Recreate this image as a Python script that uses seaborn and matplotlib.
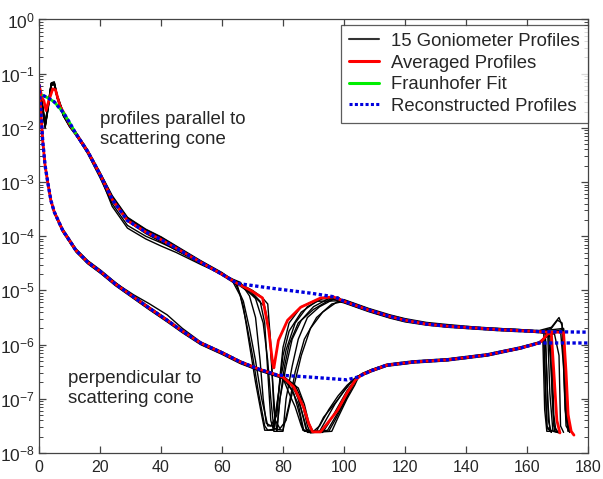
import numpy as np
import pandas as pd
import matplotlib
matplotlib.use("Agg")
import matplotlib.pyplot as plt
from matplotlib.lines import Line2D
from matplotlib.ticker import LogLocator, NullFormatter, FixedLocator
import seaborn as sns

# ---------------- data (log10 of intensity) ----------------
# parallel-to-cone goniometer profiles: shared head / tail grids
UP_HEAD_X = [0, 1, 2, 3, 4, 5, 6, 8, 10, 12, 16, 20, 24, 29, 35, 40, 45, 53, 60]
UP_HEAD = [
    [-1.20, -1.50, -1.95, -1.55, -1.18, -1.16, -1.40, -1.72, -1.93, -2.08, -2.42, -2.85, -3.30, -3.68, -3.90, -4.04, -4.20, -4.46, -4.68],
    [-1.22, -1.60, -2.00, -1.65, -1.22, -1.20, -1.45, -1.78, -1.97, -2.12, -2.47, -2.90, -3.35, -3.72, -3.93, -4.07, -4.23, -4.50, -4.72],
    [-1.18, -1.52, -1.90, -1.58, -1.17, -1.15, -1.42, -1.74, -1.94, -2.10, -2.44, -2.88, -3.45, -3.85, -4.05, -4.18, -4.30, -4.52, -4.70],
    [-1.25, -1.58, -1.98, -1.62, -1.20, -1.20, -1.45, -1.76, -1.96, -2.11, -2.43, -2.83, -3.27, -3.66, -3.88, -4.02, -4.19, -4.47, -4.70],
    [-1.20, -1.55, -1.92, -1.60, -1.21, -1.19, -1.44, -1.77, -1.95, -2.09, -2.45, -2.86, -3.32, -3.72, -3.95, -4.10, -4.26, -4.50, -4.71],
    [-1.23, -1.56, -1.97, -1.63, -1.19, -1.17, -1.41, -1.73, -1.92, -2.07, -2.41, -2.82, -3.25, -3.65, -3.87, -4.01, -4.18, -4.45, -4.67],
    [-1.21, -1.54, -1.96, -1.59, -1.20, -1.18, -1.44, -1.76, -1.96, -2.12, -2.48, -2.92, -3.40, -3.80, -4.00, -4.12, -4.25, -4.49, -4.69],
    [-1.19, -1.57, -1.99, -1.61, -1.18, -1.20, -1.46, -1.78, -1.98, -2.13, -2.46, -2.87, -3.31, -3.70, -3.91, -4.06, -4.21, -4.48, -4.71],
]
UP_DIP_X = [
    [63, 66, 68, 70, 72, 74, 75, 78, 79, 81, 83, 86, 90, 95],
    [65, 67, 69, 71, 73, 74, 77, 79, 81, 84, 88, 94],
    [66, 70, 72.5, 74, 75, 76, 77, 78, 79, 80.5, 82, 85, 90, 96],
    [66, 70, 73, 75, 76, 77, 78, 80, 81, 83, 85, 88, 92, 98],
    [66, 69, 71, 72.5, 73.5, 74.5, 76, 78, 79, 80, 82, 86, 92],
    [66, 70, 74, 75.5, 76.5, 77.5, 79, 81, 83, 86, 89, 93, 98],
    [66, 71, 73.5, 75, 76, 77, 80, 82, 84, 87, 91, 96],
    [64, 67, 69, 71, 73, 75, 77, 78.5, 80, 82, 86, 91],
]
UP_DIP = [
    [-4.78, -5.10, -5.60, -6.20, -6.90, -7.50, -7.58, -7.55, -7.00, -6.40, -5.90, -5.55, -5.30, -5.15],
    [-4.90, -5.30, -6.00, -6.70, -7.30, -7.58, -7.58, -6.70, -6.10, -5.60, -5.30, -5.12],
    [-4.90, -5.05, -5.20, -5.60, -6.50, -7.40, -7.60, -7.60, -7.00, -6.40, -6.00, -5.60, -5.35, -5.15],
    [-4.88, -5.00, -5.12, -5.25, -6.00, -7.20, -7.60, -7.60, -7.00, -6.40, -5.90, -5.50, -5.30, -5.12],
    [-4.85, -5.10, -5.50, -6.30, -7.00, -7.45, -7.50, -7.30, -6.60, -6.05, -5.60, -5.30, -5.15],
    [-4.92, -5.08, -5.30, -5.70, -6.60, -7.40, -7.55, -7.40, -6.90, -6.20, -5.70, -5.40, -5.20],
    [-4.88, -5.15, -5.60, -6.30, -7.00, -7.55, -7.58, -7.10, -6.50, -5.90, -5.50, -5.25],
    [-4.82, -5.20, -5.70, -6.30, -7.00, -7.50, -7.50, -6.90, -6.20, -5.75, -5.40, -5.20],
]
UP_TAIL_X = [100, 108, 115, 120, 127, 134, 142, 150, 157, 164]
UP_TAIL = [
    [-5.18, -5.34, -5.47, -5.54, -5.60, -5.65, -5.68, -5.71, -5.73, -5.76],
    [-5.22, -5.38, -5.50, -5.57, -5.63, -5.67, -5.70, -5.73, -5.75, -5.77],
    [-5.19, -5.35, -5.46, -5.53, -5.61, -5.64, -5.68, -5.70, -5.72, -5.75],
    [-5.21, -5.37, -5.49, -5.56, -5.62, -5.66, -5.70, -5.72, -5.75, -5.78],
    [-5.17, -5.33, -5.45, -5.52, -5.59, -5.63, -5.67, -5.70, -5.72, -5.74],
    [-5.23, -5.39, -5.51, -5.58, -5.64, -5.68, -5.71, -5.74, -5.76, -5.76],
    [-5.20, -5.36, -5.48, -5.55, -5.62, -5.66, -5.69, -5.72, -5.74, -5.77],
    [-5.19, -5.35, -5.47, -5.55, -5.61, -5.65, -5.69, -5.71, -5.73, -5.75],
]
UP_END_X = [
    [168, 170, 171.5, 172.5, 173, 174],
    [166, 166.5, 167, 168],
    [169, 172, 172.8, 173.5],
    [167, 168, 168.8, 170],
    [168, 170.5, 171.5, 172.5, 173.5],
    [165.5, 166, 166.6, 168],
    [169, 172, 173.2, 174],
    [166.8, 167.5, 168.5, 170],
]
UP_END = [
    [-5.70, -5.55, -5.60, -6.50, -7.40, -7.60],
    [-5.80, -6.50, -7.40, -7.62],
    [-5.72, -5.70, -6.80, -7.60],
    [-5.78, -6.50, -7.50, -7.60],
    [-5.68, -5.50, -5.65, -7.20, -7.60],
    [-5.78, -6.80, -7.55, -7.60],
    [-5.75, -5.72, -7.00, -7.62],
    [-5.80, -6.90, -7.60, -7.62],
]

# perpendicular-to-cone goniometer profiles
LO_HEAD_X = [0, 0.5, 1.2, 2, 3, 3.9, 5, 7.75, 10, 12.1, 16, 20.3, 25, 31, 36, 42, 47, 53, 60, 66, 72, 78]
LO_HEAD = [
    [-1.20, -1.62, -2.25, -2.70, -3.04, -3.33, -3.54, -3.88, -4.07, -4.25, -4.47, -4.65, -4.87, -5.10, -5.30, -5.53, -5.74, -5.96, -6.14, -6.31, -6.44, -6.55],
    [-1.22, -1.58, -2.20, -2.68, -3.06, -3.35, -3.56, -3.90, -4.10, -4.27, -4.50, -4.68, -4.90, -5.14, -5.34, -5.57, -5.76, -5.98, -6.16, -6.33, -6.46, -6.57],
    [-1.18, -1.60, -2.24, -2.72, -3.05, -3.34, -3.55, -3.87, -4.06, -4.24, -4.46, -4.64, -4.86, -5.08, -5.24, -5.45, -5.70, -5.95, -6.13, -6.30, -6.44, -6.56],
    [-1.21, -1.61, -2.23, -2.71, -3.07, -3.36, -3.57, -3.91, -4.09, -4.28, -4.49, -4.67, -4.89, -5.13, -5.33, -5.56, -5.77, -5.99, -6.17, -6.34, -6.47, -6.58],
    [-1.19, -1.59, -2.22, -2.69, -3.03, -3.32, -3.53, -3.86, -4.05, -4.23, -4.45, -4.63, -4.85, -5.11, -5.31, -5.54, -5.74, -5.96, -6.14, -6.31, -6.45, -6.55],
    [-1.23, -1.63, -2.26, -2.73, -3.08, -3.37, -3.58, -3.92, -4.11, -4.29, -4.51, -4.69, -4.91, -5.15, -5.35, -5.58, -5.78, -6.00, -6.18, -6.35, -6.48, -6.59],
    [-1.20, -1.60, -2.21, -2.70, -3.05, -3.34, -3.55, -3.89, -4.08, -4.26, -4.48, -4.66, -4.88, -5.12, -5.32, -5.55, -5.75, -5.97, -6.15, -6.32, -6.45, -6.56],
]
LO_DIP_X = [
    [80, 82, 84, 86, 87, 92, 94, 97, 100, 103],
    [80, 83, 85, 87, 88, 93, 95, 98, 101, 104],
    [80, 84, 86, 87.5, 89, 95, 97, 100, 102, 104.5],
    [81, 83.5, 85.5, 86.5, 91, 93.3, 97.9, 102, 104.5],
    [80, 84, 86, 88, 89, 94.6, 97, 99.8, 102.5, 104.4],
    [80, 83, 85, 86.8, 90, 92, 95, 98, 101, 104],
    [80, 85, 87, 88.5, 90, 96, 98, 101, 103.5, 105],
]
LO_DIP = [
    [-6.62, -6.90, -7.15, -7.50, -7.60, -7.60, -7.40, -7.10, -6.85, -6.65],
    [-6.60, -6.75, -7.00, -7.40, -7.62, -7.62, -7.45, -7.15, -6.85, -6.62],
    [-6.60, -6.80, -7.20, -7.55, -7.60, -7.60, -7.40, -7.08, -6.85, -6.60],
    [-6.65, -6.90, -7.30, -7.58, -7.60, -7.34, -7.02, -6.71, -6.58],
    [-6.58, -6.75, -7.00, -7.50, -7.63, -7.58, -7.35, -7.08, -6.80, -6.60],
    [-6.62, -6.85, -7.10, -7.58, -7.60, -7.50, -7.20, -6.95, -6.75, -6.60],
    [-6.60, -6.80, -7.10, -7.45, -7.62, -7.60, -7.35, -7.00, -6.75, -6.57],
]
LO_TAIL_X = [106, 109, 114, 122.7, 134, 147, 158, 164]
LO_TAIL = [
    [-6.54, -6.47, -6.37, -6.31, -6.27, -6.18, -6.05, -5.96],
    [-6.56, -6.49, -6.39, -6.33, -6.29, -6.20, -6.07, -5.97],
    [-6.53, -6.46, -6.36, -6.30, -6.26, -6.17, -6.04, -5.95],
    [-6.57, -6.50, -6.40, -6.34, -6.30, -6.21, -6.08, -5.98],
    [-6.55, -6.48, -6.38, -6.32, -6.28, -6.19, -6.06, -5.97],
    [-6.54, -6.46, -6.37, -6.31, -6.27, -6.18, -6.06, -5.96],
    [-6.56, -6.49, -6.39, -6.33, -6.28, -6.20, -6.07, -5.97],
]
LO_END_X = [
    [165.5, 166, 166.5, 168],
    [166.5, 167.5, 168.3, 169, 170.5],
    [166, 166.8, 167.5, 169],
    [167, 169, 170.5, 171, 172],
    [165.2, 165.8, 166.5, 168],
    [166.8, 168, 168.8, 169.5, 171],
    [167, 171, 172, 172.8, 174],
]
LO_END = [
    [-5.90, -6.60, -7.50, -7.62],
    [-5.84, -5.85, -7.00, -7.60, -7.63],
    [-5.86, -7.00, -7.58, -7.60],
    [-5.82, -5.80, -6.20, -7.50, -7.62],
    [-5.92, -7.20, -7.60, -7.60],
    [-5.83, -5.85, -7.30, -7.60, -7.62],
    [-5.82, -5.75, -6.40, -7.50, -7.62],
]

# averaged profiles
AVG_UP_X = [0, 1, 1.6, 2.3, 3.2, 4.5, 5.4, 6.9, 8.4, 10, 12, 16, 20, 24, 29, 35, 40, 45, 53, 60, 65,
            69.4, 73.3, 75.3, 76.6, 77, 78.5, 81.5, 85.8, 92.3, 96.6, 100, 108, 115, 120, 127, 134,
            142, 150, 157, 164, 167, 170, 172, 172.8, 173.5, 174.5, 175.4]
AVG_UP = [-1.20, -1.45, -1.50, -1.68, -1.50, -1.28, -1.30, -1.60, -1.75, -1.93, -2.10, -2.44, -2.86,
          -3.32, -3.71, -3.92, -4.06, -4.22, -4.48, -4.70, -4.87, -5.00, -5.14, -5.73, -6.34, -6.43,
          -5.92, -5.55, -5.31, -5.14, -5.12, -5.20, -5.36, -5.48, -5.55, -5.62, -5.66, -5.69, -5.72,
          -5.74, -5.76, -5.77, -5.77, -5.78, -6.50, -7.30, -7.60, -7.67]
AVG_LO_X = [0, 0.5, 1.2, 2, 3, 3.9, 5, 7.75, 10, 12.1, 16, 20.3, 25, 31, 36, 42, 47, 53, 60, 66, 72, 78,
            80, 83.5, 86.7, 88.4, 89.7, 92.3, 94.6, 97.9, 101, 103.8, 106, 109, 114, 122.7, 134, 147,
            158, 164, 165, 167, 168, 168.8, 169.8, 170.8]
AVG_LO = [-1.20, -1.60, -2.23, -2.70, -3.05, -3.34, -3.55, -3.89, -4.08, -4.26, -4.48, -4.66, -4.88,
          -5.12, -5.32, -5.55, -5.75, -5.97, -6.15, -6.32, -6.45, -6.56, -6.60, -6.78, -7.15, -7.45,
          -7.61, -7.61, -7.45, -7.21, -6.89, -6.65, -6.55, -6.48, -6.38, -6.32, -6.28, -6.19, -6.06,
          -5.97, -5.92, -5.79, -5.80, -6.50, -7.40, -7.63]

# Fraunhofer fit
FRAUN_X = [1.3, 3, 5, 8, 10, 12]
FRAUN = [-1.40, -1.45, -1.52, -1.72, -1.90, -2.10]

# reconstructed profiles
REC_UP_X = [1.3, 3, 5, 8, 10, 12, 16, 20, 24, 29, 35, 40, 45, 53, 60, 65, 75, 89, 97, 100, 108, 115,
            120, 127, 134, 142, 150, 157, 164, 180]
REC_UP = [-1.40, -1.45, -1.52, -1.72, -1.90, -2.10, -2.44, -2.86, -3.32, -3.71, -3.92, -4.06, -4.22,
          -4.48, -4.70, -4.87, -4.95, -5.05, -5.12, -5.20, -5.36, -5.48, -5.55, -5.62, -5.66, -5.69,
          -5.72, -5.74, -5.76, -5.77]
REC_LO_X = [0, 0.5, 1.2, 2, 3, 3.9, 5, 7.75, 10, 12.1, 16, 20.3, 25, 31, 36, 42, 47, 53, 60, 66, 72,
            78, 89, 101, 104.4, 109, 114, 122.7, 134, 147, 158, 164, 180]
REC_LO = [-1.20, -1.60, -2.23, -2.70, -3.05, -3.34, -3.55, -3.89, -4.08, -4.26, -4.48, -4.66, -4.88,
          -5.12, -5.32, -5.55, -5.75, -5.97, -6.15, -6.32, -6.45, -6.56, -6.60, -6.65, -6.60, -6.48,
          -6.38, -6.32, -6.28, -6.19, -6.06, -5.97, -5.97]

X_TICKS = [0, 20, 40, 60, 80, 100, 120, 140, 160, 180]
Y_DECADES = [1e-8, 1e-7, 1e-6, 1e-5, 1e-4, 1e-3, 1e-2, 1e-1, 1e0]
LEGEND_LABELS = ["15 Goniometer Profiles", "Averaged Profiles", "Fraunhofer Fit", "Reconstructed Profiles"]
TEXT_PARALLEL = "profiles parallel to\nscattering cone"
TEXT_PERP = "perpendicular to\nscattering cone"

# ---------------- style ----------------
sns.set_style("ticks", {"xtick.direction": "in", "ytick.direction": "in"})
plt.rcParams["font.family"] = ["Liberation Sans", "DejaVu Sans"]
plt.rcParams["mathtext.fontset"] = "custom"
plt.rcParams["mathtext.rm"] = "Liberation Sans"
plt.rcParams["mathtext.it"] = "Liberation Sans:italic"
plt.rcParams["mathtext.bf"] = "Liberation Sans:bold"

fig = plt.figure(figsize=(6.03, 4.79), dpi=100)
ax = fig.add_axes([0.0647, 0.0543, 0.9104, 0.905])


def draw(xs, logs, **kw):
    df = pd.DataFrame({"x": xs, "y": np.power(10.0, np.asarray(logs, dtype=float))})
    sns.lineplot(data=df, x="x", y="y", ax=ax, sort=False, estimator=None, **kw)


BLACK_KW = dict(color="black", lw=1.0)
for i in range(len(UP_HEAD)):
    xs = UP_HEAD_X + UP_DIP_X[i] + UP_TAIL_X + UP_END_X[i]
    ys = UP_HEAD[i] + UP_DIP[i] + UP_TAIL[i] + UP_END[i]
    draw(xs, ys, **BLACK_KW)
for i in range(len(LO_HEAD)):
    xs = LO_HEAD_X + LO_DIP_X[i] + LO_TAIL_X + LO_END_X[i]
    ys = LO_HEAD[i] + LO_DIP[i] + LO_TAIL[i] + LO_END[i]
    draw(xs, ys, **BLACK_KW)

RED_KW = dict(color="#ff0000", lw=2.0)
draw(AVG_UP_X, AVG_UP, **RED_KW)
draw(AVG_LO_X, AVG_LO, **RED_KW)

draw(FRAUN_X, FRAUN, color="#00ee00", lw=2.0)

BLUE_KW = dict(color="#0000dd", lw=2.4, ls=(0, (1.0, 0.75)))
draw(REC_UP_X, REC_UP, **BLUE_KW)
draw(REC_LO_X, REC_LO, **BLUE_KW)

ax.set_yscale("log")
ax.set_xlim(0, 180)
ax.set_ylim(1e-8, 1e0)
ax.set_xticks(X_TICKS)
ax.yaxis.set_major_locator(FixedLocator(Y_DECADES))
ax.yaxis.set_minor_locator(LogLocator(base=10, subs=np.arange(2, 10), numticks=200))
ax.yaxis.set_minor_formatter(NullFormatter())
ax.set_xlabel("")
ax.set_ylabel("")

for s in ax.spines.values():
    s.set_visible(True)
    s.set_color("#444444")
    s.set_linewidth(0.9)
ax.tick_params(which="both", direction="in", top=True, right=True, left=True, bottom=True,
               color="#444444", labelsize=11.5, pad=5)
ax.tick_params(which="major", length=5, width=0.9)
ax.tick_params(which="minor", length=3, width=0.7)
ax.tick_params(axis="y", which="major", labelsize=12.5, pad=3)

ax.text(20.0, 10 ** -1.69, TEXT_PARALLEL, fontsize=13.4, va="top", ha="left", linespacing=1.2)
ax.text(9.6, 10 ** -6.47, TEXT_PERP, fontsize=13.4, va="top", ha="left", linespacing=1.2)

handles = [
    Line2D([], [], color="#333333", lw=1.5),
    Line2D([], [], color="#ff0000", lw=2.2),
    Line2D([], [], color="#00ee00", lw=2.2),
    Line2D([], [], color="#0000dd", lw=2.2, ls=(0, (1.0, 0.75))),
]
leg = ax.legend(handles, LEGEND_LABELS, loc="upper right", bbox_to_anchor=(1.0, 0.987),
                borderaxespad=0.0, fontsize=13.3, frameon=True, fancybox=False,
                handlelength=1.6, handletextpad=0.7, labelspacing=0.25, borderpad=0.42)
leg.get_frame().set_edgecolor("#333333")
leg.get_frame().set_linewidth(0.9)

fig.savefig("out.png", dpi=100)
